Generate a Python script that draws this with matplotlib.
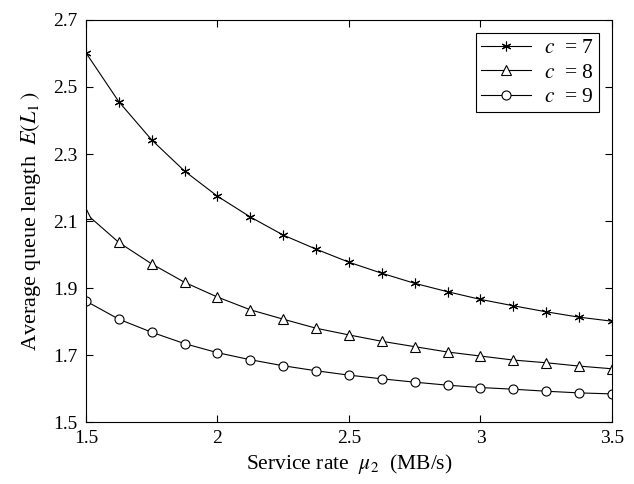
import matplotlib
matplotlib.use("Agg")
import matplotlib.pyplot as plt

plt.rcParams['font.family'] = ['Liberation Serif', 'DejaVu Serif']
plt.rcParams['mathtext.fontset'] = 'stix'

mu2 = [1.5, 1.625, 1.75, 1.875, 2.0, 2.125, 2.25, 2.375, 2.5,
       2.625, 2.75, 2.875, 3.0, 3.125, 3.25, 3.375, 3.5]
el_c7 = [2.602, 2.456, 2.342, 2.249, 2.174, 2.112, 2.058, 2.016, 1.977,
         1.944, 1.914, 1.889, 1.866, 1.847, 1.829, 1.813, 1.801]
el_c8 = [2.122, 2.036, 1.972, 1.917, 1.873, 1.835, 1.807, 1.780, 1.760,
         1.741, 1.725, 1.709, 1.697, 1.685, 1.677, 1.667, 1.659]
el_c9 = [1.861, 1.807, 1.768, 1.734, 1.707, 1.686, 1.668, 1.653, 1.640,
         1.629, 1.619, 1.610, 1.603, 1.598, 1.592, 1.587, 1.584]
labels = ["$c$  = 7", "$c$  = 8", "$c$  = 9"]

fig = plt.figure(figsize=(6.34, 4.84), dpi=100)
ax = fig.add_axes([0.1356, 0.128, 0.8297, 0.8307])

ax.plot(mu2, el_c7, color='black', lw=0.8, marker=(6, 2, 0), ms=7,
        mew=0.8, label=labels[0])
ax.plot(mu2, el_c8, color='black', lw=0.8, marker='^', ms=7.5, mfc='white',
        mew=0.8, label=labels[1])
ax.plot(mu2, el_c9, color='black', lw=0.8, marker='o', ms=6.5, mfc='white',
        mew=0.8, label=labels[2])

ax.set_xlim(1.5, 3.5)
ax.set_ylim(1.5, 2.7)
ax.set_xticks([1.5, 2, 2.5, 3, 3.5])
ax.set_xticklabels(['1.5', '2', '2.5', '3', '3.5'])
ax.set_yticks([1.5, 1.7, 1.9, 2.1, 2.3, 2.5, 2.7])
ax.tick_params(direction='in', top=True, right=True, labelsize=14,
               length=5, width=0.8, pad=6)
for s in ax.spines.values():
    s.set_linewidth(0.8)

ax.set_xlabel("Service rate  $\\mu_2$  (MB/s)", fontsize=15.5, labelpad=3)
ax.set_ylabel("Average queue length  $E(L_1\\,)$", fontsize=16, labelpad=7)

leg = ax.legend(loc='upper right', fontsize=15.5, fancybox=False,
                edgecolor='black', framealpha=1, handlelength=2.3,
                borderpad=0.25, labelspacing=0.2, handletextpad=0.6,
                borderaxespad=0.6)
leg.get_frame().set_linewidth(0.8)

fig.savefig("out.png", dpi=100)
